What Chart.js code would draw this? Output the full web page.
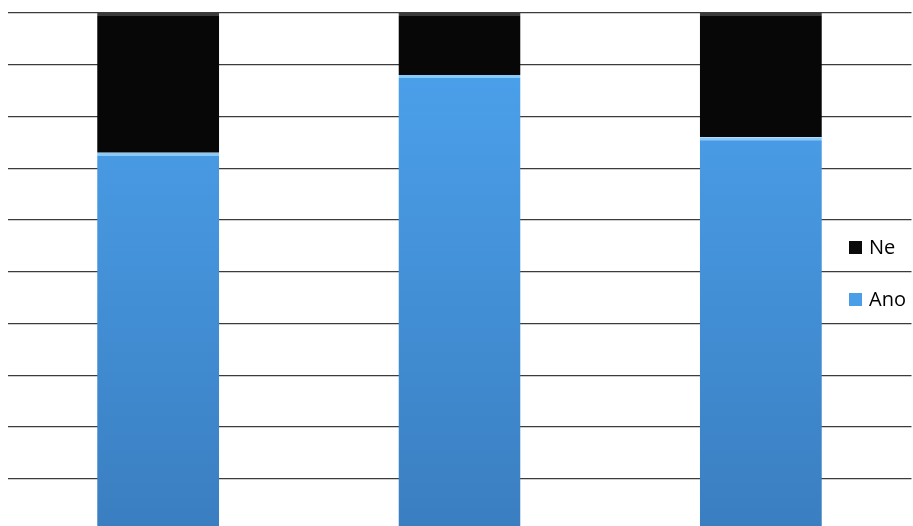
<!DOCTYPE html>
<html>
<head>
<meta charset="utf-8">
<script src="https://cdn.jsdelivr.net/npm/chart.js@4/dist/chart.umd.min.js"></script>
<style>
  html, body { margin: 0; padding: 0; background: #fff; overflow: hidden; }
  #wrap { width: 913px; height: 526px; overflow: hidden; }
</style>
</head>
<body>
<div id="wrap"><canvas id="survey" width="913" height="540"></canvas></div>
<script>
// Stacked 100% columns, Ano / Ne

const categories = ['1', '2', '3'];
const anoValues = [73, 88, 76];
const neValues = [27, 12, 24];
const yTicks = [0, 10, 20, 30, 40, 50, 60, 70, 80, 90, 100];

function vertical(context, top, bottom) {
  const chart = context.chart;
  const area = chart.chartArea;
  if (!area) return top;
  const g = chart.ctx.createLinearGradient(0, area.top, 0, area.bottom);
  g.addColorStop(0, top);
  g.addColorStop(1, bottom);
  return g;
}

// legend drawn at the right, between two grid lines
const sideLegend = {
  id: 'sideLegend',
  afterDraw: function(chart) {
    const ctx = chart.ctx;
    const items = [
      { label: chart.data.datasets[1].label, color: '#0a0a0a', y: 247 },
      { label: chart.data.datasets[0].label, color: '#4a9ee8', y: 299 }
    ];
    ctx.save();
    items.forEach(function(it) {
      ctx.fillStyle = '#fff';
      ctx.fillRect(846, it.y - 13, 67, 26);
      ctx.fillStyle = it.color;
      ctx.fillRect(849, it.y - 6, 13, 13);
      ctx.fillStyle = '#000';
      ctx.font = '20px "Open Sans", sans-serif';
      ctx.textBaseline = 'middle';
      ctx.fillText(it.label, 869, it.y + 1);
    });
    ctx.restore();
  }
};

const surveyChart = new Chart(document.getElementById('survey'), {
  type: 'bar',
  data: {
    labels: categories,
    datasets: [{
      label: 'Ano',
      data: anoValues,
      backgroundColor: function(c) { return vertical(c, '#4da4f0', '#3a7ec0'); },
      borderColor: '#86cbfb',
      borderWidth: { top: 3, left: 0, right: 0, bottom: 0 },
      borderSkipped: false,
      barPercentage: 0.405,
      categoryPercentage: 1
    }, {
      label: 'Ne',
      data: neValues,
      backgroundColor: '#070707',
      borderColor: '#3a3a3a',
      borderWidth: { top: 3, left: 0, right: 0, bottom: 0 },
      borderSkipped: false,
      barPercentage: 0.405,
      categoryPercentage: 1
    }]
  },
  options: {
    responsive: false,
    animation: false,
    layout: { padding: { left: 7.5, right: 1.5, top: 13, bottom: 9.5 } },
    plugins: {
      legend: { display: false },
      tooltip: { enabled: false }
    },
    scales: {
      x: {
        display: false,
        stacked: true
      },
      y: {
        stacked: true,
        min: 0,
        max: 100,
        afterBuildTicks: function(axis) {
          axis.ticks = yTicks.map(function(v) { return { value: v }; });
        },
        grid: { color: '#3c3c3c', lineWidth: 1.3, drawTicks: false },
        border: { display: false },
        ticks: { display: false }
      }
    }
  },
  plugins: [sideLegend]
});
</script>
</body>
</html>
